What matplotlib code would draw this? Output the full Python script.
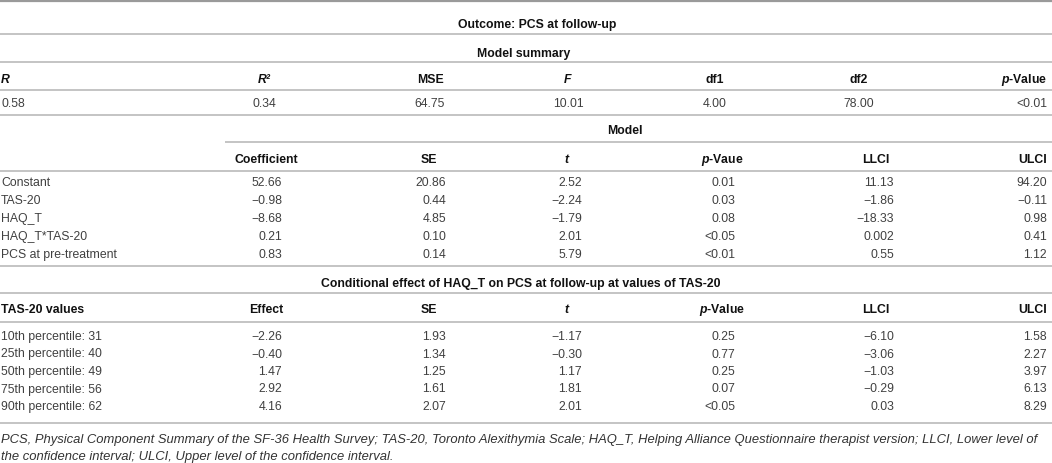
import matplotlib.pyplot as plt

plt.rcParams["font.family"] = ["Liberation Sans", "DejaVu Sans"]
plt.rcParams["mathtext.fontset"] = "custom"
plt.rcParams["mathtext.it"] = "Liberation Sans:italic:bold"
plt.rcParams["mathtext.rm"] = "Liberation Sans:bold"
plt.rcParams["mathtext.bf"] = "Liberation Sans:bold"

# --- table content ---
outcome_title = "Outcome: PCS at follow-up"

summary_title = "Model summary"
summary_headers = ["R", "R\u00b2", "MSE", "F", "df1", "df2", r"$p$-Value"]
summary_values = ["0.58", "0.34", "64.75", "10.01", "4.00", "78.00", "<0.01"]

model_title = "Model"
model_headers = ["Coefficient", "SE", "t", r"$p$-Vaue", "LLCI", "ULCI"]
model_labels = ["Constant", "TAS-20", "HAQ_T", "HAQ_T*TAS-20", "PCS at pre-treatment"]
model_coef = ["52.66", "\u22120.98", "\u22128.68", "0.21", "0.83"]
model_se = ["20.86", "0.44", "4.85", "0.10", "0.14"]
model_t = ["2.52", "\u22122.24", "\u22121.79", "2.01", "5.79"]
model_p = ["0.01", "0.03", "0.08", "<0.05", "<0.01"]
model_llci = ["11.13", "\u22121.86", "\u221218.33", "0.002", "0.55"]
model_ulci = ["94.20", "\u22120.11", "0.98", "0.41", "1.12"]

cond_title = "Conditional effect of HAQ_T on PCS at follow-up at values of TAS-20"
cond_headers = ["TAS-20 values", "Effect", "SE", "t", r"$p$-Value", "LLCI", "ULCI"]
cond_labels = ["10th percentile: 31", "25th percentile: 40", "50th percentile: 49",
               "75th percentile: 56", "90th percentile: 62"]
cond_effect = ["\u22122.26", "\u22120.40", "1.47", "2.92", "4.16"]
cond_se = ["1.93", "1.34", "1.25", "1.61", "2.07"]
cond_t = ["\u22121.17", "\u22120.30", "1.17", "1.81", "2.01"]
cond_p = ["0.25", "0.77", "0.25", "0.07", "<0.05"]
cond_llci = ["\u22126.10", "\u22123.06", "\u22121.03", "\u22120.29", "0.03"]
cond_ulci = ["1.58", "2.27", "3.97", "6.13", "8.29"]

footnote_lines = [
    "PCS, Physical Component Summary of the SF-36 Health Survey; TAS-20, Toronto Alexithymia "
    "Scale; HAQ_T, Helping Alliance Questionnaire therapist version; LLCI, Lower level of",
    "the confidence interval; ULCI, Upper level of the confidence interval.",
]

# --- layout (pixels, y grows downward) ---
W, H = 1052, 463
FS = 8.8
TXT = "#404040"
HEAD = "#111111"
LINE = "#b4b4b4"
RIGHT = 1047

fig = plt.figure(figsize=(W / 100, H / 100), dpi=100)
ax = fig.add_axes([0, 0, 1, 1])
ax.set_xlim(0, W)
ax.set_ylim(H, 0)
ax.axis("off")


def hline(y, x0=0, x1=W, lw=1.1, color=LINE):
    ax.plot([x0, x1], [y, y], color=color, lw=lw, solid_capstyle="butt")


def head(x, y, s, ha="center", italic=False):
    ax.text(x, y, s, ha=ha, va="center", fontsize=FS, fontweight="bold",
            fontstyle="italic" if italic else "normal", color=HEAD)


def val(x, y, s, ha="right"):
    ax.text(x, y, s, ha=ha, va="center", fontsize=FS, color=TXT)


# title rows
hline(1, lw=1.6, color="#9a9a9a")
head(537, 25, outcome_title)
hline(34)
head(524, 54, summary_title)
hline(62)

# model summary
sum_x = [1, 264, 430, 568, 715, 859, RIGHT]
sum_ha = ["left", "center", "center", "center", "center", "center", "right"]
sum_it = [True, True, False, True, False, False, False]
for x, ha, it, h, v in zip(sum_x, sum_ha, sum_it, summary_headers, summary_values):
    head(x, 80, h, ha=ha, italic=it)
    val(x, 104, v, ha=ha)
hline(90)
hline(115)

# model block
head(625, 131, model_title)
hline(142, x0=225)
col_right = [282, 446, 582, 735, 894, RIGHT]
col_head = [266, 429, 567, 722, 876, RIGHT]
head_ha = ["center"] * 5 + ["right"]
head_it = [False, False, True, False, False, False]
for x, ha, it, h in zip(col_head, head_ha, head_it, model_headers):
    head(x, 160, h, ha=ha, italic=it)
hline(171)
model_cols = [model_coef, model_se, model_t, model_p, model_llci, model_ulci]
for i, lab in enumerate(model_labels):
    y = 183 + i * 18
    val(1, y, lab, ha="left")
    for x, col in zip(col_right, model_cols):
        val(x, y, col[i])
hline(266)

# conditional effect block
head(521, 284, cond_title)
hline(293)
head(1, 310, cond_headers[0], ha="left")
for x, ha, it, h in zip(col_head, head_ha, head_it, cond_headers[1:]):
    head(x, 310, h, ha=ha, italic=it)
hline(322)
cond_cols = [cond_effect, cond_se, cond_t, cond_p, cond_llci, cond_ulci]
for i, lab in enumerate(cond_labels):
    y = 337 + i * 17.5
    val(1, y, lab, ha="left")
    for x, col in zip(col_right, cond_cols):
        val(x, y, col[i])
hline(423)

for i, line in enumerate(footnote_lines):
    ax.text(1, 440 + i * 17, line, ha="left", va="center", fontsize=9.4,
            fontstyle="italic", color="#333333")

fig.savefig("out.png", dpi=100)
